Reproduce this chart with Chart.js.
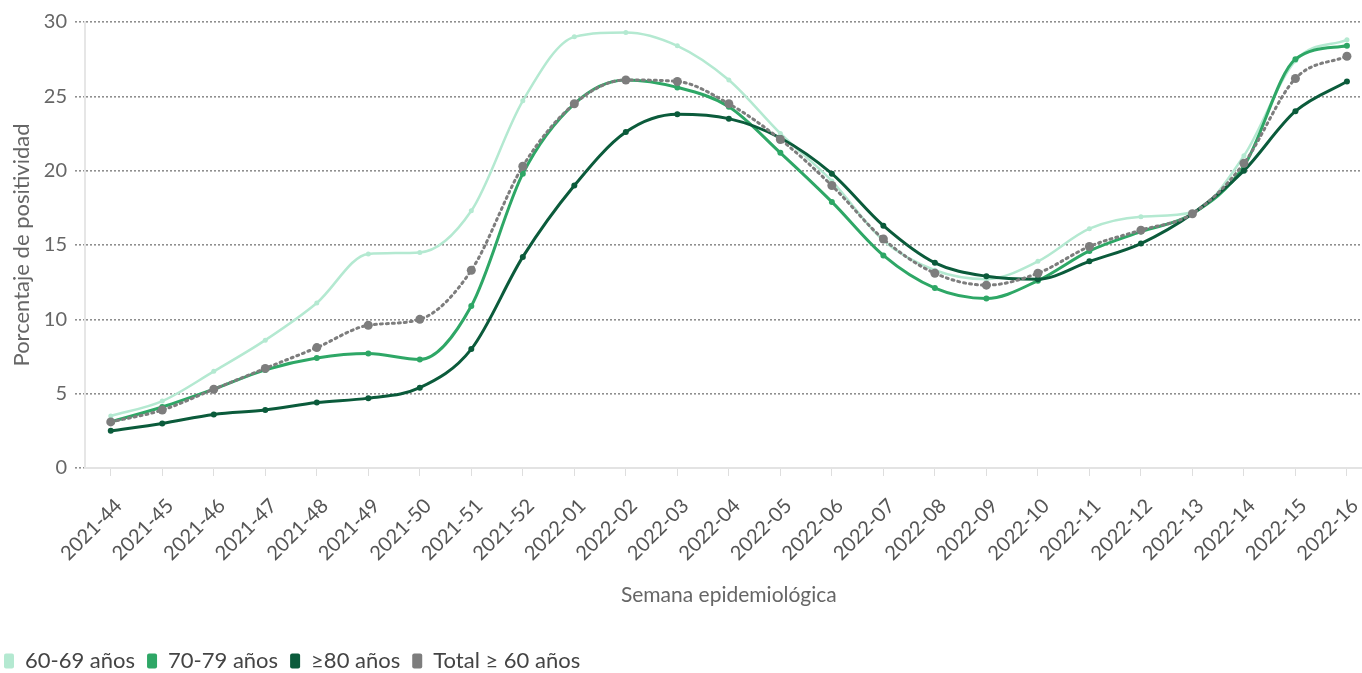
<!DOCTYPE html>
<html lang="es">
<head>
<meta charset="utf-8">
<title>Porcentaje de positividad por semana epidemiológica</title>
<script src="https://cdn.jsdelivr.net/npm/chart.js@4.4.1/dist/chart.umd.min.js"></script>
<style>
  html, body { margin: 0; padding: 0; background: #fff; overflow: hidden; }
  #wrap { position: absolute; left: -8px; top: 0; width: 1390px; height: 682px; }
</style>
</head>
<body>
<div id="wrap"><canvas id="positividad"></canvas></div>
<script>
/* Positividad semanal por grupo de edad */

const weeks = ['2021-44', '2021-45', '2021-46', '2021-47', '2021-48', '2021-49', '2021-50',
  '2021-51', '2021-52', '2022-01', '2022-02', '2022-03', '2022-04', '2022-05', '2022-06',
  '2022-07', '2022-08', '2022-09', '2022-10', '2022-11', '2022-12', '2022-13', '2022-14',
  '2022-15', '2022-16'];

const age60to69 = [3.5, 4.5, 6.5, 8.6, 11.1, 14.4, 14.5, 17.3, 24.7, 29.0, 29.3, 28.4, 26.1,
  22.5, 19.3, 15.3, 13.3, 12.7, 13.9, 16.1, 16.9, 17.2, 21.0, 27.4, 28.8];
const age70to79 = [3.1, 4.1, 5.3, 6.6, 7.4, 7.7, 7.3, 10.9, 19.8, 24.5, 26.1, 25.6, 24.3,
  21.2, 17.9, 14.3, 12.1, 11.4, 12.6, 14.6, 15.9, 17.1, 20.3, 27.5, 28.4];
const age80plus = [2.5, 3.0, 3.6, 3.9, 4.4, 4.7, 5.4, 8.0, 14.2, 19.0, 22.6, 23.8, 23.5,
  22.2, 19.8, 16.3, 13.8, 12.9, 12.7, 13.9, 15.1, 17.1, 20.0, 24.0, 26.0];
const total60plus = [3.1, 3.9, 5.3, 6.7, 8.1, 9.6, 10.0, 13.3, 20.3, 24.5, 26.1, 26.0, 24.5,
  22.1, 19.0, 15.4, 13.1, 12.3, 13.1, 14.9, 16.0, 17.1, 20.5, 26.2, 27.7];

const yTicks = [0, 5, 10, 15, 20, 25, 30];

const FONT = 'Lato';

function line(label, data, color, opts) {
  return Object.assign({
    label, data,
    borderColor: color, backgroundColor: color,
    pointBackgroundColor: color, pointBorderColor: color,
    borderWidth: 3, pointRadius: 3, pointBorderWidth: 0,
    cubicInterpolationMode: 'monotone', fill: false,
  }, opts);
}

new Chart(document.getElementById('positividad'), {
  type: 'line',
  data: {
    labels: weeks,
    datasets: [
      line('60-69 años', age60to69, '#b4e9d1', { borderWidth: 2.5, pointRadius: 2.5, order: 3 }),
      line('70-79 años', age70to79, '#2ea766', { order: 2 }),
      line('\u226580 años', age80plus, '#0b5b3b', { order: 1 }),
      line('Total \u2265 60 años', total60plus, '#7d7d7d',
        { borderDash: [2, 4], borderCapStyle: 'round', pointRadius: 4.5, order: 0 }),
    ]
  },
  options: {
    responsive: true, maintainAspectRatio: false, animation: false,
    layout: { padding: { top: 22, right: 0, left: 0, bottom: 0 } },
    plugins: {
      tooltip: { enabled: false },
      legend: {
        position: 'bottom', align: 'start',
        labels: {
          font: { family: FONT, size: 22 }, color: '#444',
          boxWidth: 10, boxHeight: 15, padding: 12,
          useBorderRadius: true, borderRadius: 2,
          sort: (a, b) => a.datasetIndex - b.datasetIndex,
          generateLabels: chart => Chart.defaults.plugins.legend.labels.generateLabels(chart)
            .map(l => Object.assign(l, { lineWidth: 0, lineDash: [] }))
        }
      }
    },
    scales: {
      x: {
        offset: true,
        afterFit: s => { s.height = 170; },
        border: { color: '#e3e3e3', width: 2 },
        grid: { drawOnChartArea: false, drawTicks: true, tickLength: 8, color: '#dedede' },
        ticks: {
          font: { family: FONT, size: 20 }, color: '#555',
          minRotation: 45, maxRotation: 45, autoSkip: false,
          padding: 18, labelOffset: 8
        },
        title: {
          display: true, text: 'Semana epidemiológica',
          font: { family: FONT, size: 21 }, color: '#666',
          padding: { top: 0, bottom: 30 }
        }
      },
      y: {
        min: 0, max: 30,
        afterFit: s => { s.width = 93; },
        afterBuildTicks: s => { s.ticks = yTicks.map(v => ({ value: v })); },
        border: { color: '#e6e6e6', width: 2, dash: [2, 2] },
        grid: { color: '#8f8f8f', lineWidth: 1.6, tickLength: 10, drawTicks: true, tickBorderDash: [2, 2] },
        ticks: { font: { family: FONT, size: 20 }, color: '#666', padding: 8 },
        title: {
          display: true, text: 'Porcentaje de positividad',
          font: { family: FONT, size: 22 }, color: '#666',
          padding: { top: 17, bottom: 0 }
        }
      }
    }
  }
});
</script>
</body>
</html>
